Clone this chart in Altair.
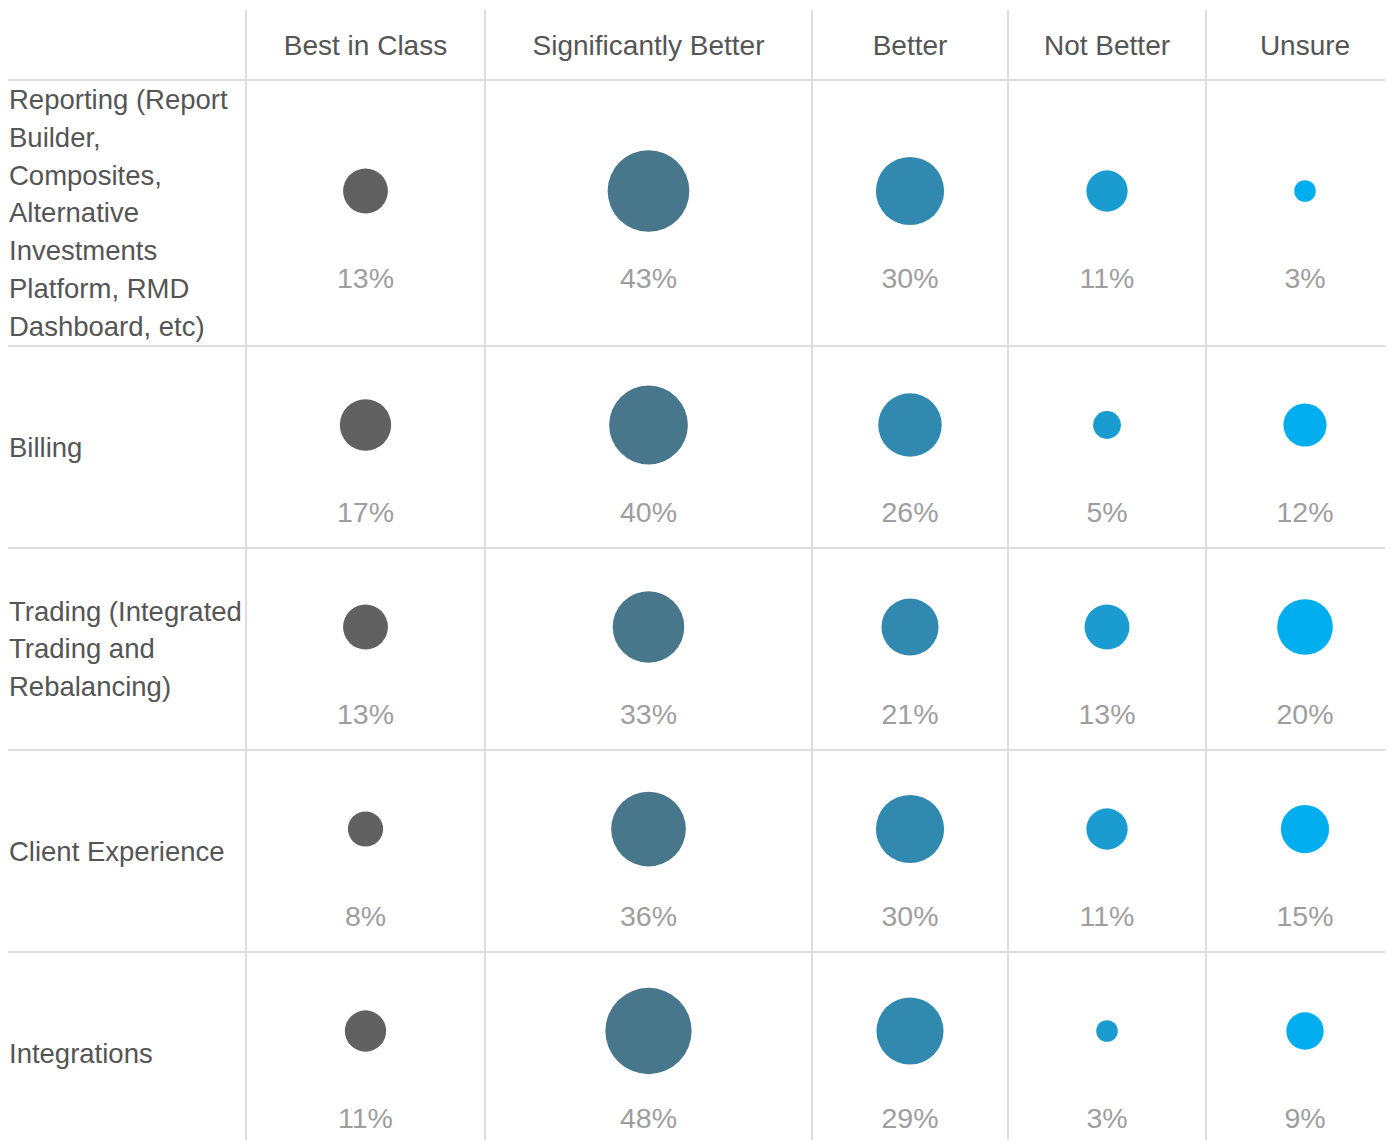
import altair as alt
import pandas as pd

# ---------------- data ----------------
row_labels = [
    "Reporting (Report\nBuilder,\nComposites,\nAlternative\nInvestments\nPlatform, RMD\nDashboard, etc)",
    "Billing",
    "Trading (Integrated\nTrading and\nRebalancing)",
    "Client Experience",
    "Integrations",
]
categories = ["Best in Class", "Significantly Better", "Better", "Not Better", "Unsure"]
best_in_class = [13, 17, 13, 8, 11]
significantly_better = [43, 40, 33, 36, 48]
better = [30, 26, 21, 30, 29]
not_better = [11, 5, 13, 11, 3]
unsure = [3, 12, 20, 15, 9]
series = [best_in_class, significantly_better, better, not_better, unsure]
colors = ["#616161", "#48768a", "#3289b0", "#1b9cd1", "#00aeef"]

# ---------------- layout (pixel grid of the table) ----------------
COL_EDGES = [8, 246, 485, 812, 1008, 1206, 1404]
ROW_EDGES = [80, 346, 548, 750, 952, 1154]
HEADER_Y = 47
TOP = 10
W, H = 1377, 1132
X0, Y0 = 8, 8
CIRCLE_OFF = -22
LABEL_OFF = 66
ROWLAB_OFF = 1.5
FONT = "Liberation Sans"
LH = 37.7

cells = []
for i, lab in enumerate(row_labels):
    yc = (ROW_EDGES[i] + ROW_EDGES[i + 1]) / 2
    for j, cat in enumerate(categories):
        xc = (COL_EDGES[j + 1] + COL_EDGES[j + 2]) / 2
        v = series[j][i]
        cells.append(dict(row=lab, cat=cat, value=v, text=f"{v}%",
                          x=xc, yc=yc + CIRCLE_OFF, yl=yc + LABEL_OFF))
cells = pd.DataFrame(cells)

headers = pd.DataFrame([
    dict(cat=c, x=(COL_EDGES[j + 1] + COL_EDGES[j + 2]) / 2, y=HEADER_Y)
    for j, c in enumerate(categories)
])
rowlab = pd.DataFrame([
    dict(label=l, x=X0 + 1,
         y=(ROW_EDGES[i] + ROW_EDGES[i + 1]) / 2 - (l.count("\n")) * LH / 2 + ROWLAB_OFF)
    for i, l in enumerate(row_labels)
])
hlines = pd.DataFrame([dict(y=y, x=X0, x2=X0 + W) for y in ROW_EDGES[:-1]])
vlines = pd.DataFrame([dict(x=x, y=TOP, y2=Y0 + H) for x in COL_EDGES[1:-1]])

xs = alt.Scale(domain=[X0, X0 + W], nice=False, zero=False)
ys = alt.Scale(domain=[Y0, Y0 + H], nice=False, zero=False, reverse=True)

def X(f):
    return alt.X(f"{f}:Q", scale=xs, axis=None)

def Y(f):
    return alt.Y(f"{f}:Q", scale=ys, axis=None)

grid_col = "#dddddd"
h_rules = alt.Chart(hlines).mark_rule(color=grid_col, strokeWidth=2, clip=True).encode(
    x=X("x"), x2="x2", y=Y("y"))
v_rules = alt.Chart(vlines).mark_rule(color=grid_col, strokeWidth=2, clip=True).encode(
    x=X("x"), y=Y("y"), y2="y2")

circles = alt.Chart(cells).mark_circle(opacity=1).encode(
    x=X("x"), y=Y("yc"),
    size=alt.Size("value:Q", scale=alt.Scale(domain=[0, 48], range=[0, 7450]), legend=None),
    color=alt.Color("cat:N", scale=alt.Scale(domain=categories, range=colors), legend=None),
)
pct = alt.Chart(cells).mark_text(font=FONT, fontSize=28.5, color="#9e9e9e",
                                 align="center", baseline="middle").encode(
    x=X("x"), y=Y("yl"), text="text:N")
head = alt.Chart(headers).mark_text(font=FONT, fontSize=28, color="#555555",
                                    align="center", baseline="middle").encode(
    x=X("x"), y=Y("y"), text="cat:N")
rows = alt.Chart(rowlab).mark_text(font=FONT, fontSize=27.5, color="#555555",
                                   align="left", baseline="middle",
                                   lineBreak="\n", lineHeight=LH).encode(
    x=X("x"), y=Y("y"), text="label:N")

chart = alt.layer(h_rules, v_rules, circles, pct, head, rows).properties(
    width=W, height=H, padding=0,
    autosize=alt.AutoSizeParams(type="none"),
).configure_view(stroke=None)

chart.save("out.html", embed_options={"renderer": "svg", "actions": False})
